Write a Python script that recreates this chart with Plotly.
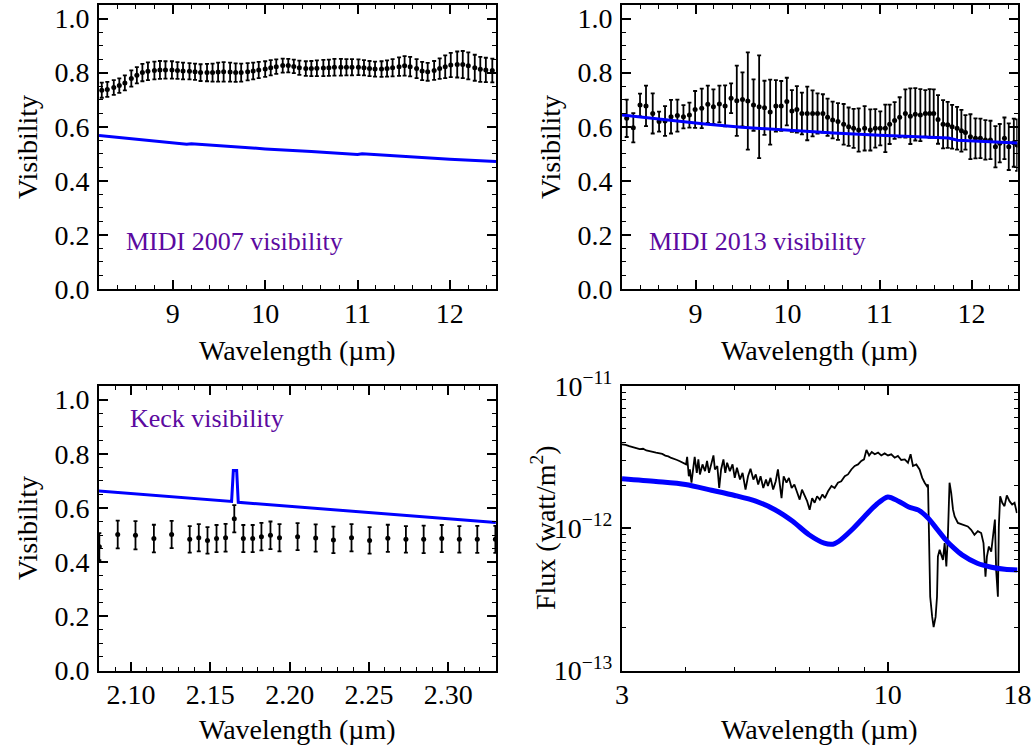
import plotly.graph_objects as go

# ---------------- Panel 1: MIDI 2007 ----------------
midi07_wl = [8.23, 8.29, 8.36, 8.42, 8.48, 8.55, 8.61, 8.67, 8.73, 8.80,
             8.86, 8.92, 8.99, 9.05, 9.11, 9.18, 9.24, 9.30, 9.37, 9.43,
             9.49, 9.55, 9.62, 9.68, 9.74, 9.81, 9.87, 9.93, 10.00, 10.06,
             10.12, 10.19, 10.25, 10.31, 10.37, 10.44, 10.50, 10.56, 10.63, 10.69,
             10.75, 10.82, 10.88, 10.94, 11.01, 11.07, 11.13, 11.19, 11.26, 11.32,
             11.38, 11.45, 11.51, 11.57, 11.64, 11.70, 11.76, 11.83, 11.89, 11.95,
             12.01, 12.08, 12.14, 12.20, 12.27, 12.33, 12.39, 12.46]
midi07_vis = [0.735, 0.738, 0.745, 0.752, 0.762, 0.778, 0.790, 0.800, 0.805, 0.808,
              0.810, 0.810, 0.810, 0.808, 0.806, 0.805, 0.803, 0.800, 0.800, 0.800,
              0.802, 0.803, 0.802, 0.800, 0.800, 0.803, 0.806, 0.810, 0.813, 0.818,
              0.822, 0.826, 0.826, 0.823, 0.818, 0.815, 0.815, 0.816, 0.817, 0.818,
              0.820, 0.820, 0.820, 0.820, 0.820, 0.818, 0.815, 0.813, 0.813, 0.815,
              0.818, 0.822, 0.825, 0.822, 0.815, 0.806, 0.803, 0.808, 0.815, 0.822,
              0.828, 0.830, 0.830, 0.825, 0.818, 0.812, 0.810, 0.808]
midi07_err = [0.028, 0.028, 0.027, 0.027, 0.028, 0.030, 0.030, 0.032, 0.033, 0.033,
              0.033, 0.032, 0.032, 0.031, 0.031, 0.030, 0.030, 0.031, 0.032, 0.033,
              0.035, 0.036, 0.035, 0.034, 0.033, 0.032, 0.031, 0.030, 0.029, 0.028,
              0.027, 0.026, 0.025, 0.025, 0.026, 0.027, 0.028, 0.029, 0.030, 0.030,
              0.031, 0.031, 0.030, 0.030, 0.029, 0.028, 0.028, 0.028, 0.029, 0.030,
              0.032, 0.034, 0.036, 0.036, 0.035, 0.034, 0.033, 0.035, 0.038, 0.042,
              0.045, 0.048, 0.050, 0.050, 0.048, 0.046, 0.045, 0.044]
model07_wl = [8.2, 8.6, 9.0, 9.15, 9.2, 9.6, 10.0, 10.5, 11.0, 11.05, 11.5, 12.0, 12.5]
model07_vis = [0.568, 0.553, 0.540, 0.535, 0.537, 0.527, 0.518, 0.508, 0.497, 0.500, 0.490, 0.480, 0.471]

# ---------------- Panel 2: MIDI 2013 ----------------
midi13_wl = [8.251, 8.323, 8.396, 8.461, 8.534, 8.603, 8.668, 8.733, 8.802, 8.868,
             8.933, 8.995, 9.067, 9.133, 9.194, 9.259, 9.321, 9.386, 9.448, 9.510,
             9.568, 9.630, 9.691, 9.749, 9.811, 9.873, 9.931, 9.992, 10.047, 10.101,
             10.156, 10.214, 10.272, 10.326, 10.384, 10.435, 10.490, 10.548, 10.610, 10.664,
             10.718, 10.773, 10.838, 10.900, 10.954, 11.008, 11.063, 11.110, 11.164, 11.219,
             11.281, 11.335, 11.389, 11.444, 11.498, 11.545, 11.589, 11.636, 11.691, 11.741,
             11.789, 11.843, 11.890, 11.934, 11.988, 12.043, 12.097, 12.151, 12.206, 12.260,
             12.307, 12.358, 12.405, 12.460, 12.496]
midi13_vis = [0.631, 0.596, 0.680, 0.677, 0.649, 0.619, 0.621, 0.637, 0.641, 0.637,
              0.643, 0.664, 0.668, 0.683, 0.674, 0.684, 0.677, 0.705, 0.696, 0.701,
              0.695, 0.680, 0.674, 0.670, 0.654, 0.677, 0.677, 0.693, 0.658, 0.664,
              0.649, 0.649, 0.649, 0.649, 0.649, 0.635, 0.625, 0.619, 0.609, 0.600,
              0.594, 0.588, 0.594, 0.588, 0.594, 0.594, 0.594, 0.609, 0.623, 0.635,
              0.649, 0.639, 0.646, 0.643, 0.649, 0.649, 0.649, 0.627, 0.609, 0.607,
              0.600, 0.594, 0.585, 0.579, 0.563, 0.557, 0.557, 0.551, 0.551, 0.526,
              0.539, 0.557, 0.526, 0.541, 0.532]
midi13_err = [0.069, 0.054, 0.042, 0.075, 0.074, 0.037, 0.055, 0.062, 0.059, 0.043,
              0.046, 0.068, 0.073, 0.069, 0.064, 0.068, 0.076, 0.055, 0.130, 0.100,
              0.180, 0.095, 0.190, 0.100, 0.120, 0.095, 0.092, 0.088, 0.077, 0.086,
              0.077, 0.099, 0.085, 0.074, 0.071, 0.069, 0.068, 0.068, 0.075, 0.071,
              0.072, 0.080, 0.082, 0.076, 0.071, 0.063, 0.088, 0.073, 0.068, 0.074,
              0.089, 0.103, 0.097, 0.096, 0.086, 0.090, 0.089, 0.090, 0.089, 0.085,
              0.081, 0.079, 0.077, 0.064, 0.083, 0.074, 0.073, 0.073, 0.071, 0.076,
              0.071, 0.077, 0.086, 0.089, 0.095]
model13_wl = [8.2, 8.6, 9.0, 9.1, 9.5, 10.0, 10.5, 11.0, 11.5, 11.75, 11.85, 12.2, 12.5]
model13_vis = [0.643, 0.628, 0.613, 0.610, 0.598, 0.587, 0.577, 0.568, 0.562, 0.558, 0.550, 0.546, 0.540]

# ---------------- Panel 3: Keck ----------------
keck_wl = [2.0800, 2.0916, 2.1028, 2.1144, 2.1256, 2.1370, 2.1427, 2.1482, 2.1539, 2.1596,
           2.1651, 2.1708, 2.1767, 2.1822, 2.1879, 2.1936, 2.2050, 2.2164, 2.2276, 2.2390,
           2.2504, 2.2619, 2.2733, 2.2845, 2.2959, 2.3070, 2.3183, 2.3297]
keck_vis = [0.457, 0.502, 0.499, 0.487, 0.502, 0.484, 0.490, 0.480, 0.487, 0.490,
            0.560, 0.487, 0.487, 0.494, 0.499, 0.490, 0.494, 0.489, 0.482, 0.490,
            0.480, 0.488, 0.484, 0.484, 0.487, 0.484, 0.484, 0.484]
keck_err = [0.050, 0.051, 0.052, 0.051, 0.050, 0.049, 0.050, 0.049, 0.050, 0.051,
            0.050, 0.050, 0.050, 0.051, 0.051, 0.050, 0.050, 0.050, 0.049, 0.050,
            0.049, 0.050, 0.049, 0.051, 0.050, 0.049, 0.050, 0.050]
modelk_wl = [2.079, 2.1634, 2.1645, 2.1666, 2.1676, 2.33]
modelk_vis = [0.663, 0.624, 0.738, 0.738, 0.621, 0.546]

# ---------------- Panel 4: SED (flux in units of 1e-12 W/m^2) ----------------
sed_wl = [3.00, 3.05, 3.10, 3.15, 3.20, 3.25, 3.30, 3.35, 3.40, 3.45,
          3.50, 3.55, 3.60, 3.65, 3.70, 3.75, 3.80, 3.85, 3.90, 3.96,
          4.01, 4.03, 4.06, 4.08, 4.11, 4.14, 4.17, 4.21, 4.24, 4.27,
          4.32, 4.37, 4.41, 4.45, 4.50, 4.54, 4.57, 4.62, 4.66, 4.70,
          4.75, 4.79, 4.83, 4.89, 4.95, 5.00, 5.05, 5.12, 5.18, 5.25,
          5.31, 5.37, 5.44, 5.50, 5.56, 5.62, 5.69, 5.76, 5.81, 5.88,
          5.95, 6.02, 6.08, 6.13, 6.18, 6.24, 6.32, 6.39, 6.47, 6.55,
          6.63, 6.71, 6.78, 6.85, 6.94, 7.02, 7.10, 7.18, 7.26, 7.35,
          7.44, 7.52, 7.63, 7.75, 7.86, 7.98, 8.10, 8.23, 8.35, 8.48,
          8.61, 8.74, 8.87, 8.98, 9.08, 9.19, 9.30, 9.43, 9.57, 9.71,
          9.86, 10.01, 10.16, 10.32, 10.47, 10.63, 10.80, 10.96, 11.09, 11.21,
          11.38, 11.55, 11.69, 11.82, 11.94, 12.00, 12.05, 12.12, 12.23, 12.31,
          12.42, 12.50, 12.55, 12.65, 12.84, 12.94, 13.04, 13.13, 13.23, 13.33,
          13.44, 13.54, 13.74, 14.05, 14.37, 14.59, 14.81, 15.04, 15.27, 15.43,
          15.57, 15.67, 15.81, 15.98, 16.10, 16.25, 16.34, 16.47, 16.54, 16.64,
          16.80, 16.97, 17.15, 17.36, 17.57, 17.76, 17.95]
sed_flux = [3.89, 3.86, 3.78, 3.70, 3.66, 3.60, 3.62, 3.52, 3.50, 3.44,
            3.40, 3.36, 3.33, 3.24, 3.20, 3.12, 3.08, 3.02, 2.96, 2.89,
            2.81, 3.18, 2.32, 2.59, 2.09, 2.59, 3.18, 2.45, 3.05, 2.39,
            2.81, 2.52, 2.97, 2.45, 2.81, 3.25, 2.59, 2.74, 1.92, 2.59,
            3.05, 2.45, 2.89, 2.52, 2.81, 2.26, 2.66, 2.20, 2.45, 1.87,
            2.32, 2.62, 2.20, 2.39, 2.03, 2.32, 1.92, 2.20, 1.98, 2.26,
            1.87, 2.14, 2.59, 2.09, 1.63, 2.32, 2.09, 2.26, 1.92, 2.03,
            1.82, 1.59, 1.87, 1.73, 1.55, 1.35, 1.63, 1.51, 1.68, 1.59,
            1.73, 1.63, 1.82, 1.98, 1.92, 2.09, 2.14, 2.32, 2.39, 2.59,
            2.74, 2.81, 2.97, 3.05, 3.55, 3.25, 3.44, 3.31, 3.40, 3.25,
            3.36, 3.25, 3.31, 3.13, 3.22, 3.02, 3.05, 2.89, 3.31, 2.74,
            2.81, 2.59, 2.26, 2.09, 1.98, 2.03, 0.875, 0.330, 0.238, 0.202,
            0.238, 0.330, 0.632, 0.705, 0.599, 0.786, 0.538, 0.875, 2.09, 1.77,
            1.35, 1.21, 1.09, 1.06, 1.03, 0.976, 0.900, 0.953, 0.926, 0.786,
            0.457, 0.632, 0.744, 0.686, 0.875, 1.15, 0.509, 0.330, 1.03, 1.68,
            1.51, 1.43, 1.70, 1.55, 1.47, 1.51, 1.28]
sed_model_wl = [3.0, 3.5, 4.0, 4.5, 5.0, 5.5, 6.0, 6.5, 7.0, 7.5, 7.8, 8.0, 8.5, 9.0,
                9.5, 10.0, 10.5, 11.0, 11.5, 12.0, 12.5, 13.0, 13.5, 14.0, 15.0, 16.0, 17.0, 18.0]
sed_model_flux = [2.23, 2.13, 2.03, 1.85, 1.70, 1.55, 1.35, 1.12, 0.90, 0.786, 0.773, 0.807, 0.976, 1.21,
                  1.47, 1.66, 1.55, 1.41, 1.34, 1.18, 0.986, 0.829, 0.724, 0.650, 0.567, 0.532, 0.515, 0.509]
flux_unit = 1e-12

# ---------------- Figure ----------------
FONT = "Liberation Serif, Times New Roman, DejaVu Serif, serif"
BLUE = "#0000ff"
PURPLE = "#5c0aa0"
TS = 28

W, H = 1033, 747


def px(x):
    return x / W


def py(y):
    return 1 - y / H


fig = go.Figure()


def vis_points(x, y, e, xa, ya):
    return go.Scatter(x=x, y=y, mode="markers", xaxis=xa, yaxis=ya, showlegend=False,
                      marker=dict(color="black", size=5),
                      error_y=dict(type="data", array=e, color="black", thickness=1.8, width=2))


def line(x, y, xa, ya, color, width, shape="linear"):
    return go.Scatter(x=x, y=y, mode="lines", xaxis=xa, yaxis=ya, showlegend=False,
                      line=dict(color=color, width=width, shape=shape, smoothing=0.8))


fig.add_trace(line(model07_wl, model07_vis, "x", "y", BLUE, 3))
fig.add_trace(vis_points(midi07_wl, midi07_vis, midi07_err, "x", "y"))
fig.add_trace(vis_points(midi13_wl, midi13_vis, midi13_err, "x2", "y2"))
fig.add_trace(line(model13_wl, model13_vis, "x2", "y2", BLUE, 3))
fig.add_trace(vis_points(keck_wl, keck_vis, keck_err, "x3", "y3"))
fig.add_trace(line(modelk_wl, modelk_vis, "x3", "y3", BLUE, 3))
fig.add_trace(line(sed_wl, [f * flux_unit for f in sed_flux], "x4", "y4", "black", 1.8))
fig.add_trace(line(sed_model_wl, [f * flux_unit for f in sed_model_flux], "x4", "y4", BLUE, 5, "spline"))

colL = [px(99), px(496)]
colR = [px(622), px(1017.5)]
rowT = [py(289), py(5)]
rowB = [py(670.5), py(386)]

tickfont = dict(family=FONT, size=TS, color="black")
minor_kw = dict(ticks="inside", ticklen=4, tickcolor="black", tickwidth=1.2)


def base_axis(domain, anchor, rng, standoff, **kw):
    d = dict(domain=domain, anchor=anchor, range=rng, showline=True, linecolor="black",
             linewidth=2, mirror="allticks", ticks="inside", ticklen=9, tickwidth=1.5,
             tickcolor="black", showgrid=False, zeroline=False, tickfont=tickfont,
             automargin=False, ticklabelstandoff=standoff, ticklabeloverflow="allow")
    d.update(kw)
    return d


XS, YS = -2, 2
xw_kw = dict(tickvals=[9, 10, 11, 12], ticktext=["9", "10", "11", "12"],
             minor=dict(dtick=0.2, tick0=8.2, **minor_kw))
yv_kw = dict(tickvals=[0, 0.2, 0.4, 0.6, 0.8, 1.0], tickformat=".1f",
             minor=dict(dtick=0.05, tick0=0, **minor_kw))

fig.update_layout(
    width=W, height=H, margin=dict(l=0, r=0, t=0, b=0),
    paper_bgcolor="white", plot_bgcolor="white", showlegend=False,
    font=dict(family=FONT, color="black"),
    xaxis=base_axis(colL, "y", [8.2, 12.5], XS, **xw_kw),
    yaxis=base_axis(rowT, "x", [0, 1.05], YS, **yv_kw),
    xaxis2=base_axis(colR, "y2", [8.2, 12.5], XS, **xw_kw),
    yaxis2=base_axis(rowT, "x2", [0, 1.05], YS, **yv_kw),
    xaxis3=base_axis(colL, "y3", [2.0798, 2.3301], XS,
                     tickvals=[2.10, 2.15, 2.20, 2.25, 2.30], tickformat=".2f",
                     minor=dict(dtick=0.01, tick0=2.0, **minor_kw)),
    yaxis3=base_axis(rowB, "x3", [0, 1.05], YS, **yv_kw),
    xaxis4=base_axis(colR, "y4", [0.47712, 1.25527], XS, type="log",
                     tickvals=[3, 10, 18], ticktext=["3", "10", "18"],
                     minor=dict(tickvals=[4, 5, 6, 7, 8, 9], **minor_kw)),
    yaxis4=base_axis(rowB, "x4", [-13, -11], YS, type="log",
                     tickvals=[1e-13, 1e-12, 1e-11],
                     ticktext=["10<sup>\u221213</sup>", "10<sup>\u221212</sup>", "10<sup>\u221211</sup>"],
                     minor=dict(tickvals=[k * 1e-13 for k in range(2, 10)] + [k * 1e-12 for k in range(2, 10)],
                                **minor_kw)),
)

# axis titles
title_font = dict(family=FONT, size=TS, color="black")
for cx, cy in [((99 + 496) / 2, 350), ((622 + 1017) / 2, 350), ((99 + 496) / 2, 729), ((622 + 1017) / 2, 729)]:
    fig.add_annotation(text="Wavelength (\u00b5m)", x=px(cx), y=py(cy), xref="paper", yref="paper",
                       xanchor="center", yanchor="middle", showarrow=False, font=title_font)
for cx, cy, txt in [(27, 147, "Visibility"), (550, 147, "Visibility"), (27, 528, "Visibility"),
                    (543, 528, "Flux (watt/m<sup>2</sup>)")]:
    fig.add_annotation(text=txt, x=px(cx), y=py(cy), xref="paper", yref="paper", textangle=-90,
                       xanchor="center", yanchor="middle", showarrow=False, font=title_font)

ann_font = dict(family=FONT, size=26, color=PURPLE)
fig.add_annotation(text="MIDI 2007 visibility", x=8.47, y=0.174, xref="x", yref="y",
                   xanchor="left", yanchor="middle", showarrow=False, font=ann_font)
fig.add_annotation(text="MIDI 2013 visibility", x=8.47, y=0.174, xref="x2", yref="y2",
                   xanchor="left", yanchor="middle", showarrow=False, font=ann_font)
fig.add_annotation(text="Keck visibility", x=2.098, y=0.93, xref="x3", yref="y3",
                   xanchor="left", yanchor="middle", showarrow=False, font=ann_font)

# remove the browser's default 8 px page margin so the 1033x747 figure fills the window
fig.write_html("out.html", config={"displayModeBar": False},
               post_script="document.body.style.margin='0';document.body.style.overflow='hidden';")
